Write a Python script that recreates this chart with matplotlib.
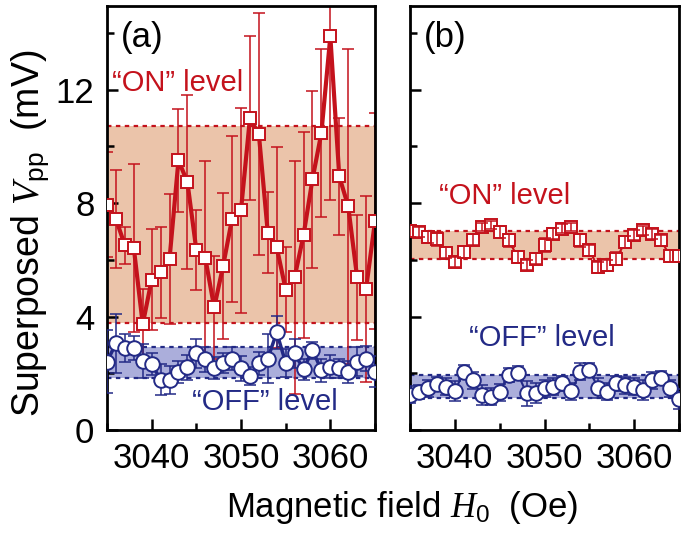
import matplotlib
matplotlib.use("Agg")
import matplotlib.pyplot as plt
from matplotlib.ticker import MultipleLocator
import numpy as np

plt.rcParams['font.family'] = ['Liberation Sans', 'DejaVu Sans']
plt.rcParams['mathtext.fontset'] = 'custom'
plt.rcParams['mathtext.it'] = 'Liberation Serif:italic'
plt.rcParams['mathtext.rm'] = 'Liberation Sans'

# ---- data ----
field = list(range(3035, 3066))

a_on = [7.95, 7.44, 6.51, 6.42, 3.73, 5.30, 5.56, 6.03, 9.51, 8.74, 6.35, 6.07, 4.32, 5.79, 7.45, 7.75,
        11.0, 10.43, 6.95, 6.44, 4.95, 5.38, 6.87, 8.84, 10.48, 13.88, 8.94, 7.89, 5.38, 4.98, 7.36]
a_on_err = [1.85, 1.72, 0.65, 2.97, 1.25, 1.77, 1.60, 2.30, 1.82, 3.07, 1.40, 3.40, 1.80, 2.57, 2.93, 3.62,
            2.90, 4.27, 1.43, 3.55, 1.51, 4.12, 3.63, 3.13, 2.97, 5.78, 2.06, 5.55, 2.21, 3.28, 3.80]
a_off = [2.41, 3.05, 2.90, 2.90, 2.43, 2.32, 1.78, 1.76, 2.05, 2.21, 2.70, 2.49, 2.19, 2.35, 2.52, 2.17,
         1.90, 2.35, 2.52, 3.44, 2.37, 2.70, 2.14, 2.82, 2.11, 2.23, 2.17, 2.05, 2.41, 2.52, 2.05]
a_off_err = [1.10, 1.05, 0.50, 0.42, 0.60, 0.38, 0.55, 0.50, 0.40, 0.45, 0.50, 0.45, 0.40, 0.35, 0.40, 0.45,
             0.32, 0.40, 0.88, 0.58, 0.50, 0.50, 0.38, 0.30, 0.40, 0.40, 0.35, 0.40, 0.50, 0.45, 0.55]

b_on = [7.02, 6.98, 6.80, 6.74, 6.25, 5.93, 6.28, 6.71, 7.16, 7.22, 6.98, 6.69, 6.10, 5.81, 6.04, 6.51,
        6.92, 7.10, 7.16, 6.69, 6.34, 5.73, 5.81, 6.04, 6.63, 6.87, 7.04, 6.92, 6.69, 6.13, 6.13]
b_on_err = [0.20, 0.18, 0.22, 0.25, 0.20, 0.18, 0.22, 0.20, 0.15, 0.15, 0.20, 0.22, 0.20, 0.18, 0.20, 0.25,
            0.20, 0.15, 0.15, 0.22, 0.20, 0.18, 0.20, 0.22, 0.20, 0.18, 0.15, 0.18, 0.20, 0.22, 0.20]
b_off = [1.25, 1.35, 1.47, 1.61, 1.53, 1.37, 2.05, 1.76, 1.23, 1.17, 1.33, 1.94, 2.00, 1.29, 1.29, 1.47,
         1.53, 1.64, 1.37, 2.05, 2.11, 1.47, 1.35, 1.64, 1.58, 1.53, 1.41, 1.76, 1.82, 1.47, 1.10]
b_off_err = [0.30, 0.25, 0.30, 0.25, 0.30, 0.35, 0.25, 0.30, 0.35, 0.30, 0.30, 0.25, 0.25, 0.45, 0.35, 0.30,
             0.30, 0.25, 0.30, 0.30, 0.25, 0.35, 0.30, 0.25, 0.30, 0.30, 0.35, 0.30, 0.25, 0.30, 0.35]

a_on_band = (3.78, 10.72)
a_off_band = (1.82, 2.91)
b_on_band = (6.02, 7.00)
b_off_band = (1.12, 1.93)

RED = '#c4121c'
BLUE = '#232a86'
ON_FILL = '#ebc4aa'
OFF_FILL = '#abaedb'

fig = plt.figure(figsize=(6.85, 5.36), dpi=100)
ax_a = fig.add_axes([107/685, 1-430/536, 268/685, 424/536])
ax_b = fig.add_axes([410/685, 1-430/536, 269/685, 424/536])


def band(ax, lo, hi, fill, col):
    ax.axhspan(lo, hi, color=fill, lw=0, zorder=0)
    for v in (lo, hi):
        ax.axhline(v, color=col, lw=1.6, ls=(0, (2.0, 2.0)), zorder=1)


def series(ax, x, y, e, col, marker, ms, lw, z, bars_on_top=False):
    ez = z + 1.5 if bars_on_top else z
    ax.errorbar(x, y, yerr=e, fmt='none', ecolor=col, elinewidth=1.1, capsize=4.5,
                capthick=1.1, zorder=ez)
    ax.plot(x, y, '-', color=col, lw=lw, zorder=z + 0.5)
    ax.plot(x, y, ls='none', marker=marker, ms=ms, mfc='white', mec=col, mew=1.4, zorder=z + 1)


band(ax_a, *a_on_band, ON_FILL, RED)
band(ax_a, *a_off_band, OFF_FILL, BLUE)
series(ax_a, field, a_on, a_on_err, RED, 's', 9, 3.0, 2)
series(ax_a, field, a_off, a_off_err, BLUE, 'o', 10.5, 2.5, 5)

band(ax_b, *b_on_band, ON_FILL, RED)
band(ax_b, *b_off_band, OFF_FILL, BLUE)
series(ax_b, field, b_on, b_on_err, RED, 's', 9, 1.5, 2, bars_on_top=True)
series(ax_b, field, b_off, b_off_err, BLUE, 'o', 10.5, 1.5, 5)

for ax in (ax_a, ax_b):
    ax.set_xlim(3035, 3065)
    ax.set_ylim(0, 14.95)
    ax.xaxis.set_major_locator(MultipleLocator(10))
    ax.xaxis.set_minor_locator(MultipleLocator(5))
    ax.yaxis.set_major_locator(MultipleLocator(4))
    ax.yaxis.set_minor_locator(MultipleLocator(2))
    ax.tick_params(which='both', direction='in', width=1.8, labelsize=25, pad=9)
    ax.tick_params(which='major', length=8)
    ax.tick_params(which='minor', length=5)
    for s in ax.spines.values():
        s.set_linewidth(2.0)

ax_b.tick_params(labelleft=False)

ax_a.text(0.05, 0.925, '(a)', transform=ax_a.transAxes, fontsize=25, va='center', ha='left')
ax_b.text(0.05, 0.925, '(b)', transform=ax_b.transAxes, fontsize=25, va='center', ha='left')

ax_a.text(0.02, 0.818, '\u201cON\u201d level', transform=ax_a.transAxes, fontsize=21,
          color=RED, va='center', ha='left')
ax_a.text(0.59, 0.065, '\u201cOFF\u201d level', transform=ax_a.transAxes, fontsize=21,
          color=BLUE, va='center', ha='center')
ax_b.text(0.35, 0.552, '\u201cON\u201d level', transform=ax_b.transAxes, fontsize=21,
          color=RED, va='center', ha='center')
ax_b.text(0.49, 0.218, '\u201cOFF\u201d level', transform=ax_b.transAxes, fontsize=21,
          color=BLUE, va='center', ha='center')

fig.text(30/685, 0.565, r'Superposed $V_{\mathrm{pp}}$  (mV)', rotation=90, fontsize=27,
         va='center', ha='center')
fig.text(402/685, 1-507/536, r'Magnetic field $H_{\mathrm{0}}$  (Oe)', fontsize=25,
         va='center', ha='center')

fig.savefig('out.png', dpi=100)
